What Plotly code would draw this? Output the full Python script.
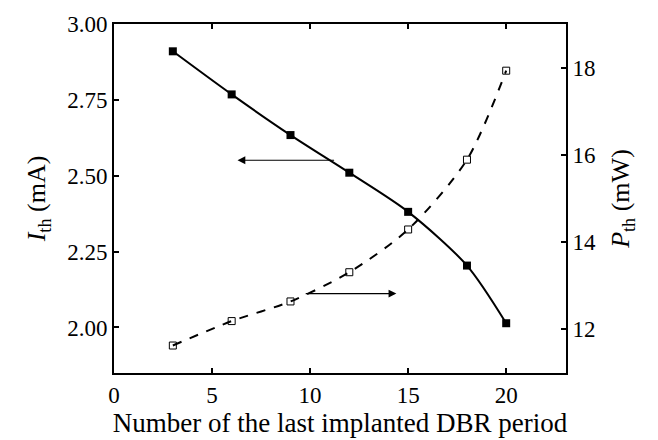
import plotly.graph_objects as go

# DBR period index of the last implanted layer
periods = [3, 6, 9, 12, 15, 18, 20]
# Threshold current (mA)
i_th = [2.91, 2.768, 2.634, 2.51, 2.381, 2.204, 2.014]
# Threshold power (mW)
p_th = [11.63, 12.19, 12.64, 13.31, 14.29, 15.89, 17.93]

FONT = "Liberation Serif"

fig = go.Figure()
fig.add_trace(go.Scatter(
    x=periods, y=i_th, mode="lines+markers", yaxis="y",
    line=dict(color="black", width=2, shape="spline", smoothing=0.8),
    marker=dict(symbol="square", size=8, color="black"),
    showlegend=False,
))
fig.add_trace(go.Scatter(
    x=periods, y=p_th, mode="lines+markers", yaxis="y2",
    line=dict(color="black", width=2, dash="dash", shape="spline", smoothing=0.8),
    marker=dict(symbol="square-open", size=7, color="black", line=dict(width=1)),
    showlegend=False,
))

# Arrows pointing each curve to its axis
fig.add_annotation(x=6.3, y=2.551, ax=11.3, ay=2.551, xref="x", yref="y",
                   axref="x", ayref="y", showarrow=True, arrowhead=2,
                   arrowsize=1.3, arrowwidth=1.2, arrowcolor="black", text="")
fig.add_annotation(x=14.4, y=12.82, ax=9.7, ay=12.82, xref="x", yref="y2",
                   axref="x", ayref="y2", showarrow=True, arrowhead=2,
                   arrowsize=1.3, arrowwidth=1.2, arrowcolor="black", text="")

xtitlefont = dict(family=FONT, size=27, color="black")
ytitlefont = dict(family=FONT, size=26, color="black")

fig.update_layout(
    width=658, height=440,
    margin=dict(l=114, r=92, t=22, b=65),
    paper_bgcolor="white", plot_bgcolor="white",
    font=dict(family=FONT, color="black", size=23),
    xaxis=dict(
        range=[0, 23.05], tickvals=[0, 5, 10, 15, 20],
        ticks="inside", ticklen=5, tickwidth=1.5, tickcolor="black",
        showline=True, linewidth=2, linecolor="black", mirror="ticks",
        showgrid=False, zeroline=False,
        title=dict(text="Number of the last implanted DBR period",
                   font=xtitlefont, standoff=2),
    ),
    yaxis=dict(
        range=[1.85, 3.0], tickvals=[2.0, 2.25, 2.5, 2.75, 3.0], tickformat=".2f",
        ticks="inside", ticklen=5, tickwidth=1.5, tickcolor="black",
        showline=True, linewidth=2, linecolor="black",
        showgrid=False, zeroline=False,
        title=dict(text="<i>I</i><sub>th</sub> (mA)", font=ytitlefont, standoff=14),
    ),
    yaxis2=dict(
        range=[11, 19], tickvals=[12, 14, 16, 18], overlaying="y", side="right",
        ticks="inside", ticklen=5, tickwidth=1.5, tickcolor="black",
        showline=True, linewidth=2, linecolor="black",
        showgrid=False, zeroline=False,
        title=dict(text="<i>P</i><sub>th</sub> (mW)", font=ytitlefont, standoff=16),
    ),
)
for ax in ("xaxis", "yaxis", "yaxis2"):
    fig.layout[ax].tickfont = dict(family=FONT, size=23, color="black")

fig.write_html("out.html")
